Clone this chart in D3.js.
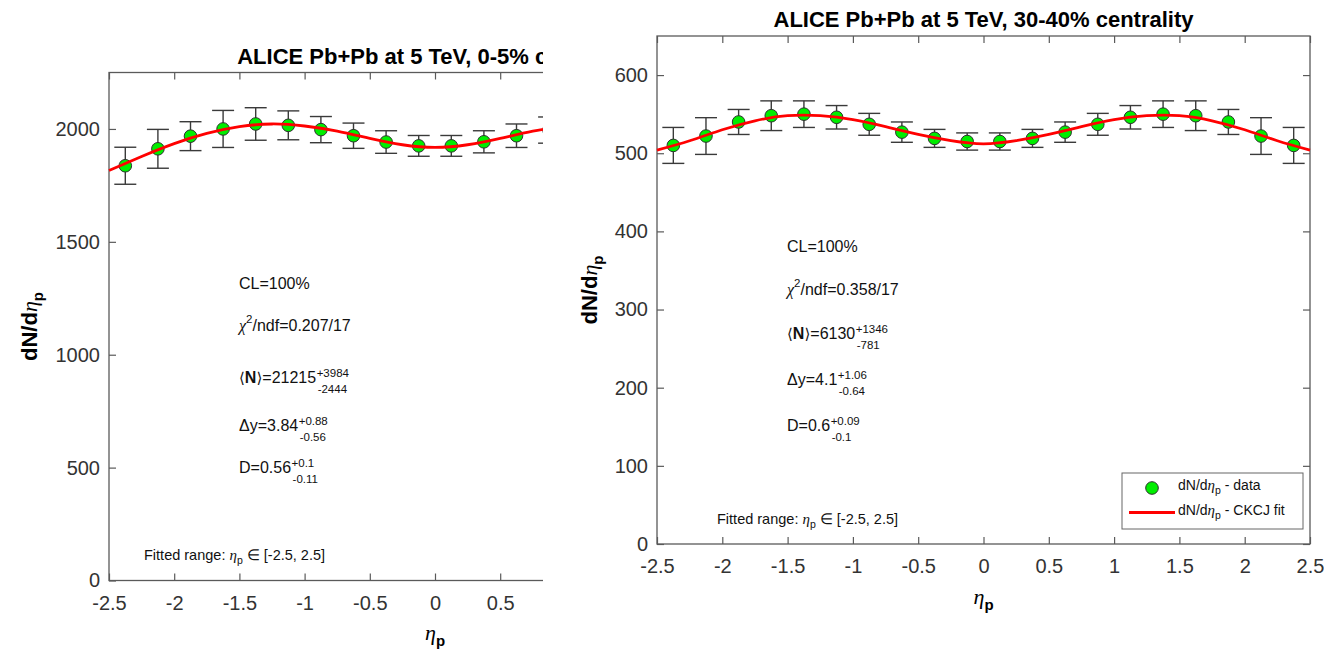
<!DOCTYPE html>
<html><head><meta charset="utf-8">
<script src="https://cdn.jsdelivr.net/npm/d3@7"></script>
<style>
body{margin:0;background:#fff}
svg{display:block}
text{font-family:"Liberation Sans",Arial,Helvetica,sans-serif}
</style>
</head><body>
<svg id="c" width="1324" height="655"></svg>
<script>
// ---------------- data ----------------
const xTicks = [-2.5,-2,-1.5,-1,-0.5,0,0.5,1,1.5,2,2.5];
const yTicksLeft = [0,500,1000,1500,2000];
const yTicksRight = [0,100,200,300,400,500,600];

// 0-5% centrality (left, cropped panel)
const etaLeft = [-2.375,-2.125,-1.875,-1.625,-1.375,-1.125,-0.875,-0.625,-0.375,-0.125,0.125,0.375,0.625,0.875];
const dndetaLeft = [1837,1912,1968,2000,2022,2016,1997,1970,1942,1925,1925,1943,1970,1995];
const errLeft = [82,86,64,82,72,64,58,56,50,46,46,49,52,58];
const fitEtaLeft = [-2.5,-2.25,-2,-1.75,-1.5,-1.25,-1,-0.75,-0.5,-0.25,0,0.25,0.5,0.75,1];
const fitLeft = [1816,1878,1935,1980,2010,2022,2013,1990,1958,1930,1918,1930,1958,1990,2013];

// 30-40% centrality (right panel)
const etaRight = [-2.375,-2.125,-1.875,-1.625,-1.375,-1.125,-0.875,-0.625,-0.375,-0.125,0.125,0.375,0.625,0.875,1.125,1.375,1.625,1.875,2.125,2.375];
const dndetaRight = [510,522,540,548,550,546,537,527,519,515,515,519,527,537,546,550,548,540,522,510];
const errRight = [23,23.5,16,19,17,15,14,13,11.5,11,11,11.5,13,14,15,17,19,16,23.5,23];
const fitEtaRight = [-2.5,-2.25,-2,-1.75,-1.5,-1.25,-1,-0.75,-0.5,-0.25,0,0.25,0.5,0.75,1,1.25,1.5,1.75,2,2.25,2.5];
const fitRight = [504,516,530,541.5,548,548,543,534,524,516,512,516,524,534,543,548,548,541.5,530,516,504];

const titleLeft = "ALICE Pb+Pb at 5 TeV, 0-5% centrality";
const titleRight = "ALICE Pb+Pb at 5 TeV, 30-40% centrality";
const statsLeft = {cl:"100%", chi:"0.207/17", N:["21215","+3984","-2444"], dy:["3.84","+0.88","-0.56"], D:["0.56","+0.1","-0.11"]};
const statsRight = {cl:"100%", chi:"0.358/17", N:["6130","+1346","-781"], dy:["4.1","+1.06","-0.64"], D:["0.6","+0.09","-0.1"]};
const legendLabels = [" - data", " - CKCJ fit"];

// ---------------- drawing ----------------
const svg = d3.select("#c");
const AX = "#5a5a5a", TK = "#333";
const SERIF = "'Liberation Serif','DejaVu Serif',serif";
const fmt = d => String(d);

svg.append("defs").append("clipPath").attr("id","clipL")
  .append("rect").attr("x",0).attr("y",0).attr("width",543).attr("height",655);

function addSegs(t, segs){
  segs.forEach(s=>{
    const ts = t.append("tspan").text(s.t);
    if (s.it) ts.attr("font-family",SERIF).attr("font-style","italic").attr("font-weight","normal");
    if (s.b) ts.attr("font-weight","bold");
    if (s.f) ts.attr("font-family",s.f);
    if (s.fs) ts.attr("font-size",s.fs);
    if (s.dy) ts.attr("dy",s.dy);
  });
}

function annot(g, x, yb, segs, sup, sub, fs){
  const t = g.append("text").attr("x",x).attr("y",yb).attr("font-size",fs).attr("fill","#111");
  addSegs(t, segs);
  if (sup!==undefined){
    const w = t.node().getComputedTextLength();
    g.append("text").attr("x",x+w+0.5).attr("y",yb-6.5).attr("font-size",11.5).attr("fill","#111").text(sup);
    g.append("text").attr("x",x+w+1.5).attr("y",yb+9.5).attr("font-size",11.5).attr("fill","#111").text(sub);
  }
  return t;
}

function drawPanel(c){
  const g = svg.append("g");
  if (c.clip) g.attr("clip-path","url(#clipL)");
  const x = d3.scaleLinear().domain([-2.5,2.5]).range([c.x0,c.x1]);
  const y = d3.scaleLinear().domain([0,c.yMax]).range([c.yBot,c.yTop]);

  // title
  g.append("text").attr("x",(c.x0+c.x1)/2).attr("y",c.yTop-9).attr("text-anchor","middle")
    .attr("font-size",22).attr("font-weight","bold").attr("fill","#000").text(c.title);

  // axes
  const ax = (sel)=>{ sel.select(".domain").remove();
    sel.selectAll("line").attr("stroke",AX).attr("stroke-width",1.2);
    sel.selectAll("text").attr("fill",TK).attr("font-size",20)
      .attr("font-family","'Liberation Sans',Arial,sans-serif"); };
  g.append("g").attr("transform",`translate(0,${c.yBot})`)
    .call(d3.axisBottom(x).tickValues(xTicks).tickFormat(fmt).tickSizeInner(-7).tickSizeOuter(0).tickPadding(15)).call(ax);
  g.append("g").attr("transform",`translate(0,${c.yTop})`)
    .call(d3.axisTop(x).tickValues(xTicks).tickFormat("").tickSizeInner(-7).tickSizeOuter(0)).call(ax);
  g.append("g").attr("transform",`translate(${c.x0},0)`)
    .call(d3.axisLeft(y).tickValues(c.yTicks).tickFormat(fmt).tickSizeInner(-7).tickSizeOuter(0).tickPadding(9)).call(ax);
  g.append("g").attr("transform",`translate(${c.x1},0)`)
    .call(d3.axisRight(y).tickValues(c.yTicks).tickFormat("").tickSizeInner(-7).tickSizeOuter(0)).call(ax);
  g.append("rect").attr("x",c.x0).attr("y",c.yTop).attr("width",c.x1-c.x0).attr("height",c.yBot-c.yTop)
    .attr("fill","none").attr("stroke",AX).attr("stroke-width",1.3);

  // error bars
  const eb = g.append("g").attr("stroke","#3a3a3a").attr("stroke-width",1.4).attr("fill","none");
  c.eta.forEach((e,i)=>{
    const cx = x(e), lo = y(c.val[i]-c.err[i]), hi = y(c.val[i]+c.err[i]);
    eb.append("line").attr("x1",cx).attr("x2",cx).attr("y1",lo).attr("y2",hi);
    eb.append("line").attr("x1",cx-11).attr("x2",cx+11).attr("y1",lo).attr("y2",lo);
    eb.append("line").attr("x1",cx-11).attr("x2",cx+11).attr("y1",hi).attr("y2",hi);
  });
  // markers
  g.append("g").selectAll("circle").data(c.eta).join("circle")
    .attr("cx",d=>x(d)).attr("cy",(d,i)=>y(c.val[i])).attr("r",6.3)
    .attr("fill","#00ee00").attr("stroke","#2f2f2f").attr("stroke-width",1);
  // fit curve
  const line = d3.line().x(d=>x(d[0])).y(d=>y(d[1])).curve(d3.curveNatural);
  g.append("path").datum(c.fitEta.map((e,i)=>[e,c.fit[i]])).attr("d",line)
    .attr("fill","none").attr("stroke","#ff0000").attr("stroke-width",2.8);

  // y label
  const yl = g.append("text").attr("transform",`translate(${c.ylx},${(c.yTop+c.yBot)/2}) rotate(-90)`)
    .attr("text-anchor","middle").attr("font-size",22).attr("font-weight","bold").attr("fill","#000");
  addSegs(yl,[{t:"dN/d"},{t:"η",it:1},{t:"p",fs:15,dy:6}]);
  // x label
  const xl = g.append("text").attr("x",x(0)).attr("y",c.xly).attr("text-anchor","middle")
    .attr("font-size",22).attr("fill","#000");
  addSegs(xl,[{t:"η",it:1},{t:"p",b:1,fs:15,dy:6}]);

  // stats annotations
  const s = c.stats, ax0 = c.ax, b = c.ab;
  annot(g, ax0, b[0], [{t:"CL="+s.cl}], undefined, undefined, 16);
  annot(g, ax0, b[1], [{t:"χ",it:1},{t:"2",fs:11.5,dy:-8},{t:"/ndf="+s.chi,dy:8}], undefined, undefined, 16);
  annot(g, ax0, b[2], [{t:"⟨",f:"'DejaVu Sans'",fs:15},{t:"N",b:1},{t:"⟩",f:"'DejaVu Sans'",fs:15},{t:"="+s.N[0]}], s.N[1], s.N[2], 16);
  annot(g, ax0, b[3], [{t:"Δy="+s.dy[0]}], s.dy[1], s.dy[2], 16);
  annot(g, ax0, b[4], [{t:"D="+s.D[0]}], s.D[1], s.D[2], 16);
  const fr = g.append("text").attr("x",c.frx).attr("y",c.fry).attr("font-size",14.5).attr("fill","#111");
  addSegs(fr,[{t:"Fitted range: "},{t:"η",it:1,fs:15},{t:"p",fs:10.5,dy:4},{t:" ∈ [-2.5, 2.5]",dy:-4}]);
  return {g,x,y};
}

drawPanel({x0:109,x1:761,yTop:72.5,yBot:580.5,yMax:2250,yTicks:yTicksLeft,clip:true,title:titleLeft,
  eta:etaLeft,val:dndetaLeft,err:errLeft,fitEta:fitEtaLeft,fit:fitLeft,
  ylx:37,xly:640,stats:statsLeft,ax:239,ab:[289,331,383,431,473],frx:144,fry:560});

const R = drawPanel({x0:657,x1:1310,yTop:36,yBot:544,yMax:650,yTicks:yTicksRight,clip:false,title:titleRight,
  eta:etaRight,val:dndetaRight,err:errRight,fitEta:fitEtaRight,fit:fitRight,
  ylx:597,xly:604,stats:statsRight,ax:787,ab:[252,295,339,385,431],frx:717,fry:524});

// legend (right panel)
const lg = R.g.append("g");
lg.append("rect").attr("x",1122).attr("y",473).attr("width",181).attr("height",56)
  .attr("fill","#fff").attr("stroke","#666").attr("stroke-width",1);
lg.append("circle").attr("cx",1152).attr("cy",488).attr("r",6.3)
  .attr("fill","#00ee00").attr("stroke","#2f2f2f").attr("stroke-width",1);
lg.append("line").attr("x1",1129).attr("x2",1175).attr("y1",512.5).attr("y2",512.5)
  .attr("stroke","#ff0000").attr("stroke-width",2.8);
legendLabels.forEach((lab,i)=>{
  const t = lg.append("text").attr("x",1178).attr("y",490+i*25).attr("font-size",14).attr("fill","#111");
  addSegs(t,[{t:"dN/d"},{t:"η",it:1,fs:15},{t:"p",fs:10.5,dy:4},{t:lab,dy:-4}]);
});
</script>
</body></html>
